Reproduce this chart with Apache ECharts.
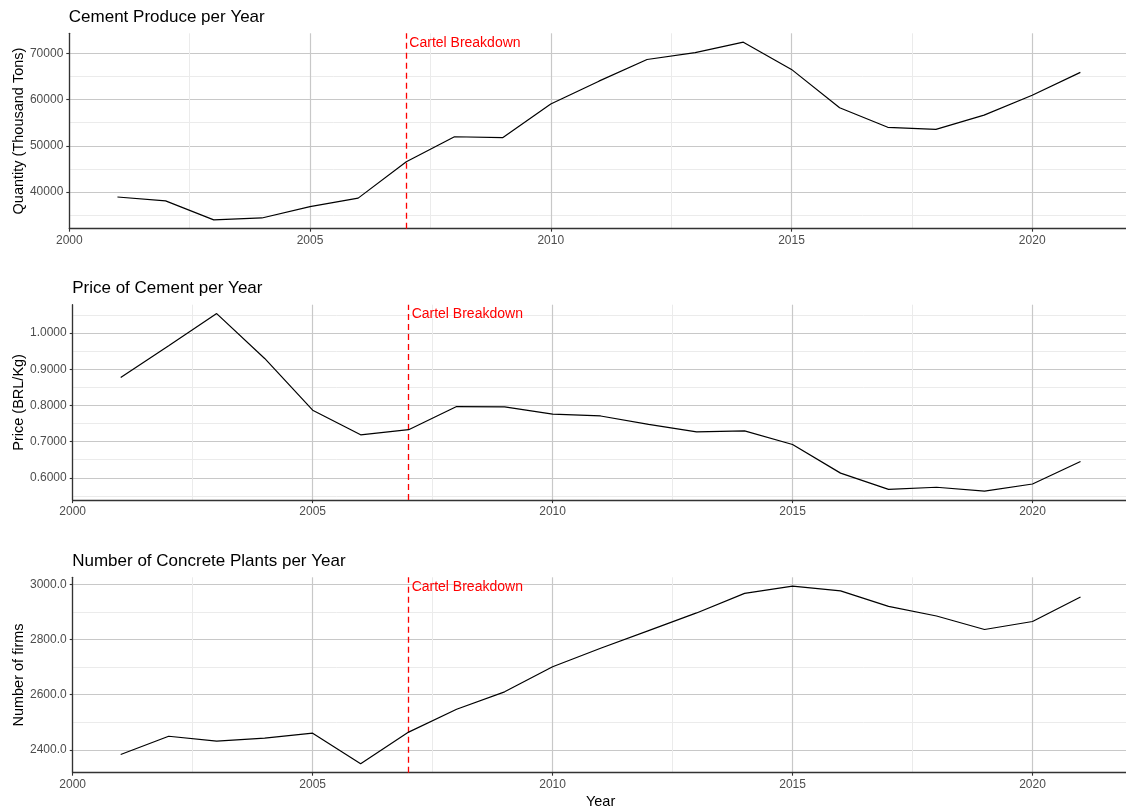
<!DOCTYPE html>
<html>
<head>
<meta charset="utf-8">
<script src="https://cdn.jsdelivr.net/npm/echarts@6/dist/echarts.min.js"></script>
<style>
  html, body { margin: 0; padding: 0; background: #fff; }
  #chart { width: 1126px; height: 809px; }
</style>
</head>
<body>
<div id="chart"></div>
<script>
// yearly data
const years = [2001, 2002, 2003, 2004, 2005, 2006, 2007, 2008, 2009, 2010, 2011,
  2012, 2013, 2014, 2015, 2016, 2017, 2018, 2019, 2020, 2021]
const quantity = [38900, 38050, 33950, 34350, 36800, 38650, 46550, 51950, 51750, 59050, 64000,
  68700, 70200, 72450, 66550, 58250, 54000, 53550, 56650, 60950, 65900]
const price = [0.877, 0.965, 1.054, 0.930, 0.787, 0.719, 0.733, 0.797, 0.796, 0.776, 0.771,
  0.748, 0.727, 0.730, 0.692, 0.613, 0.568, 0.574, 0.563, 0.583, 0.645]
const plants = [2383, 2449, 2431, 2442, 2460, 2349, 2464, 2547, 2610, 2701, 2768,
  2832, 2896, 2967, 2993, 2976, 2920, 2885, 2836, 2865, 2954]

const xBreaks = [2000, 2005, 2010, 2015, 2020]
const xMinorBreaks = [2002.5, 2007.5, 2012.5, 2017.5]
const cartelYear = 2007
const cartelLabel = 'Cartel Breakdown'

const qtyBreaks = [40000, 50000, 60000, 70000]
const qtyMinor = [35000, 45000, 55000, 65000]
const priceBreaks = [0.6, 0.7, 0.8, 0.9, 1.0]
const priceMinor = [0.55, 0.65, 0.75, 0.85, 0.95, 1.05]
const plantBreaks = [2400, 2600, 2800, 3000]
const plantMinor = [2500, 2700, 2900]

const FONT = '"Liberation Sans", Arial, Helvetica, sans-serif'

// ggplot-style 5% expansion
function expand(arr) {
  const lo = Math.min(...arr)
  const hi = Math.max(...arr)
  const pad = (hi - lo) * 0.05
  return [lo - pad, hi + pad]
}

const panels = [
  { title: 'Cement Produce per Year', yName: 'Quantity (Thousand Tons)', values: quantity,
    major: qtyBreaks, minor: qtyMinor, digits: 0, left: 69.3, top: 33.3, titleTop: 9, nameGap: 43 },
  { title: 'Price of Cement per Year', yName: 'Price (BRL/Kg)', values: price,
    major: priceBreaks, minor: priceMinor, digits: 4, left: 72.7, top: 304.7, titleTop: 280, nameGap: 46 },
  { title: 'Number of Concrete Plants per Year', yName: 'Number of firms', values: plants,
    major: plantBreaks, minor: plantMinor, digits: 1, left: 72.7, top: 577.3, titleTop: 553, nameGap: 46 }
]

const xRange = expand(years)
const plotHeight = 195.4
const plotRight = 1128.5

const option = {
  animation: false,
  backgroundColor: '#fff',
  textStyle: { fontFamily: FONT },
  title: [],
  grid: [],
  xAxis: [],
  yAxis: [],
  series: []
}

panels.forEach((p, i) => {
  const yRange = expand(p.values)

  option.title.push({
    text: p.title,
    left: p.left - 0.5,
    top: p.titleTop,
    padding: 0,
    textStyle: { fontFamily: FONT, fontSize: 17, fontWeight: 'normal', color: '#000' }
  })

  option.grid.push({
    left: p.left,
    top: p.top,
    width: plotRight - p.left,
    height: plotHeight,
    outerBoundsMode: 'none',
    containLabel: false
  })

  // major x axis
  option.xAxis.push({
    type: 'value',
    gridIndex: i,
    min: xRange[0],
    max: xRange[1],
    name: i === panels.length - 1 ? 'Year' : '',
    nameLocation: 'middle',
    nameGap: 22,
    nameMoveOverlap: false,
    nameTextStyle: { fontFamily: FONT, fontSize: 14.5, color: '#000' },
    axisLine: { show: true, onZero: false, lineStyle: { color: '#333', width: 1.3 } },
    axisTick: { show: true, length: 3, customValues: xBreaks, lineStyle: { color: '#333', width: 1.1 } },
    axisLabel: { customValues: xBreaks, margin: 6, fontSize: 12, color: '#4d4d4d', fontFamily: FONT,
      formatter: v => String(v) },
    splitLine: { show: true, lineStyle: { color: '#c8c8c8', width: 1.2 } }
  })
  // minor x gridlines
  option.xAxis.push({
    type: 'value',
    gridIndex: i,
    min: xRange[0],
    max: xRange[1],
    axisLine: { show: false },
    axisTick: { show: false, customValues: xMinorBreaks },
    axisLabel: { show: false, customValues: xMinorBreaks },
    splitLine: { show: true, lineStyle: { color: '#ebebeb', width: 1 } },
    z: 0
  })

  option.yAxis.push({
    type: 'value',
    gridIndex: i,
    min: yRange[0],
    max: yRange[1],
    name: p.yName,
    nameLocation: 'middle',
    nameGap: p.nameGap,
    nameMoveOverlap: false,
    nameRotate: 90,
    nameTextStyle: { fontFamily: FONT, fontSize: 14.5, color: '#000' },
    axisLine: { show: true, onZero: false, lineStyle: { color: '#333', width: 1.3 } },
    axisTick: { show: true, length: 3, customValues: p.major, lineStyle: { color: '#333', width: 1.1 } },
    axisLabel: { customValues: p.major, margin: 6, fontSize: 12, color: '#4d4d4d', fontFamily: FONT,
      formatter: v => v.toFixed(p.digits) },
    splitLine: { show: true, lineStyle: { color: '#c8c8c8', width: 1.2 } }
  })
  option.yAxis.push({
    type: 'value',
    gridIndex: i,
    min: yRange[0],
    max: yRange[1],
    axisLine: { show: false },
    axisTick: { show: false, customValues: p.minor },
    axisLabel: { show: false, customValues: p.minor },
    splitLine: { show: true, lineStyle: { color: '#ebebeb', width: 1 } },
    z: 0
  })

  option.series.push({
    type: 'line',
    xAxisIndex: i * 2,
    yAxisIndex: i * 2,
    data: years.map((y, k) => [y, p.values[k]]),
    showSymbol: false,
    symbol: 'none',
    lineStyle: { color: '#000', width: 1.2 },
    z: 5,
    markLine: {
      silent: true,
      symbol: 'none',
      label: { show: false },
      lineStyle: { color: '#ff0000', type: [6, 4], width: 1.3 },
      data: [{ xAxis: cartelYear }]
    },
    markPoint: {
      silent: true,
      symbol: 'circle',
      symbolSize: 0,
      data: [{
        coord: [cartelYear, Math.max(...p.values)],
        label: {
          show: true,
          position: 'right',
          distance: 3,
          offset: [0, 1],
          formatter: cartelLabel,
          color: '#ff0000',
          fontSize: 14,
          fontFamily: FONT
        }
      }]
    }
  })
})

const chart = echarts.init(document.getElementById('chart'), null, { renderer: 'canvas' })
chart.setOption(option)
</script>
</body>
</html>
